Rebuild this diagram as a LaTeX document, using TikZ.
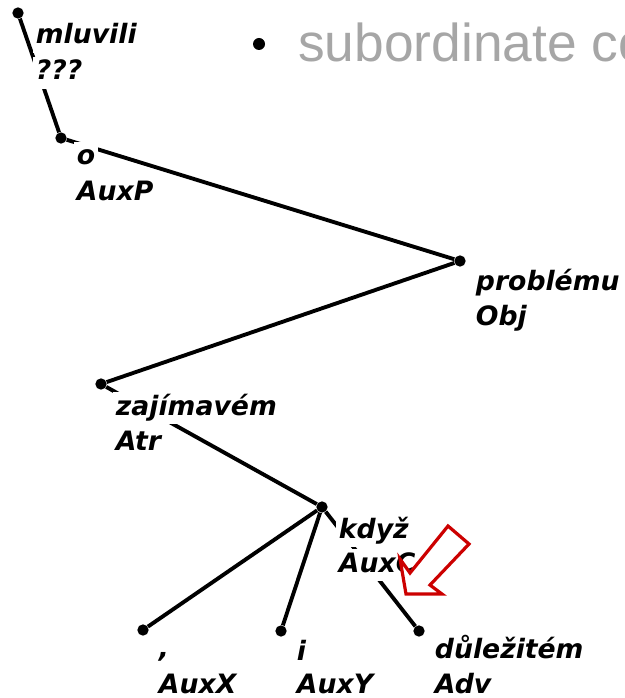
\documentclass[tikz,border=0pt]{standalone}
\usepackage{fontspec}
\usepackage{tikz}
\usepackage{xcolor}
\newfontfamily\treefont{DejaVu Sans}
\newfontfamily\slidefont{Liberation Sans}
\definecolor{slidegray}{HTML}{A6A6A6}
\definecolor{markred}{HTML}{CC0000}
\tikzset{
  tnode/.style={circle, fill=black, inner sep=0pt, minimum size=8.5pt},
  dep/.style={line width=2.9pt},
  lab/.style={fill=white, inner sep=2pt, anchor=base west, text height=15.5pt, text depth=5pt, font=\treefont\bfseries\itshape\fontsize{20}{24}\selectfont},
  pointer/.style={draw=markred, fill=white, line width=2.4pt, line join=miter},
}

\begin{document}
\begin{tikzpicture}[x=0.75pt,y=-0.75pt]
\useasboundingbox (0,0) rectangle (624,698);
% slide text
\node[circle, fill=black, inner sep=0pt, minimum size=9pt] (bullet) at (259,44) {};
\node[anchor=base west, inner sep=0pt, text=slidegray, font=\slidefont\fontsize{40}{48}\selectfont] (subtitle) at (298,62) {subordinate co};
% tree
\node[tnode] (mluvili) at (18,13) {};
\node[tnode] (o) at (61,138) {};
\node[tnode] (problemu) at (460,261) {};
\node[tnode] (zajimavem) at (101,384) {};
\node[tnode] (kdyz) at (322,507) {};
\node[tnode] (carka) at (143,630) {};
\node[tnode] (i) at (281,631) {};
\node[tnode] (dulezitem) at (419,631) {};
\draw[dep] (mluvili) -- (o);
\draw[dep] (o) -- (problemu);
\draw[dep] (problemu) -- (zajimavem);
\draw[dep] (zajimavem) -- (kdyz);
\draw[dep] (kdyz) -- (carka);
\draw[dep] (kdyz) -- (i);
\draw[dep] (kdyz) -- (dulezitem);
% labels
\node[lab] (mluvili-w) at ([shift={(15,31)}]mluvili.center) {mluvili};
\node[lab] (mluvili-f) at ([shift={(15,67)}]mluvili.center) {???};
\node[lab] (o-w) at ([shift={(13,27)}]o.center) {o};
\node[lab] (o-f) at ([shift={(13,63)}]o.center) {AuxP};
\node[lab] (problemu-w) at ([shift={(13,29)}]problemu.center) {problému};
\node[lab] (problemu-f) at ([shift={(13,64)}]problemu.center) {Obj};
\node[lab] (zajimavem-w) at ([shift={(12,31)}]zajimavem.center) {zajímavém};
\node[lab] (zajimavem-f) at ([shift={(12,66)}]zajimavem.center) {Atr};
\node[lab] (kdyz-w) at ([shift={(14,31)}]kdyz.center) {když};
\node[lab] (kdyz-f) at ([shift={(14,65)}]kdyz.center) {AuxC};
\node[lab] (carka-w) at ([shift={(13,27)}]carka.center) {,};
\node[lab] (carka-f) at ([shift={(13,63)}]carka.center) {AuxX};
\node[lab] (i-w) at ([shift={(13,29)}]i.center) {i};
\node[lab] (i-f) at ([shift={(13,62)}]i.center) {AuxY};
\node[lab] (dulezitem-w) at ([shift={(13,27)}]dulezitem.center) {důležitém};
\node[lab] (dulezitem-f) at ([shift={(13,62)}]dulezitem.center) {Adv};
% red pointer
\draw[pointer] (448,526) -- (410,573) -- (400,559) -- (406,594) -- (442,594) -- (430,585) -- (469,544) -- cycle;
\end{tikzpicture}
\end{document}
